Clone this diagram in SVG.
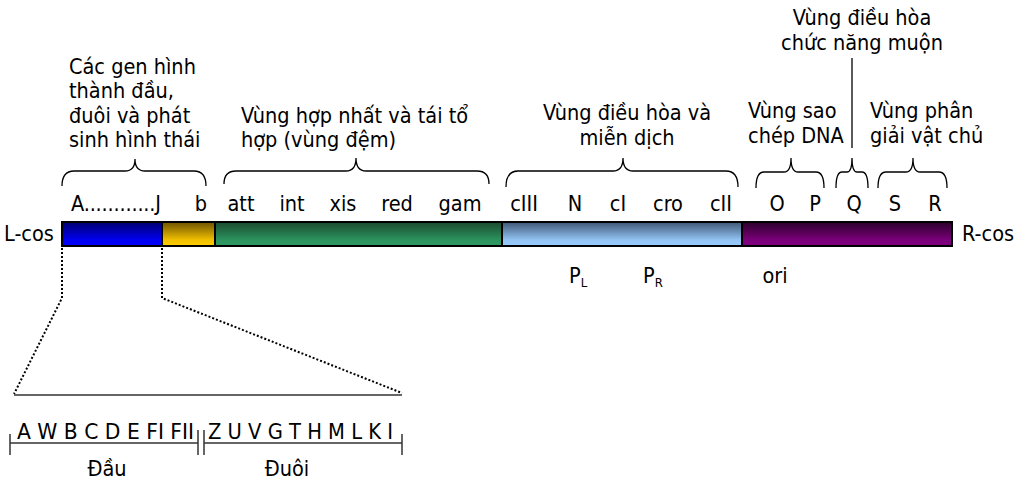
<svg xmlns="http://www.w3.org/2000/svg" width="1026" height="481" viewBox="0 0 1026 481">
  <style>
    text { font-family: "DejaVu Sans Condensed", "DejaVu Sans", Verdana, sans-serif; font-stretch: condensed; font-size: 21.5px; fill: #000; }
    .mid { text-anchor: middle; }
    .sub { font-size: 13px; }
    .big { font-size: 22px; }
    .brace { fill: none; stroke: #000; stroke-width: 1.3; }
    .seg { stroke: #000; stroke-width: 2; }
    .dot { fill: none; stroke: #000; stroke-width: 2; stroke-dasharray: 2 2; }
    .rule { fill: none; stroke: #333; stroke-width: 1.5; }
  </style>
  <defs>
    <linearGradient id="gBlue" x1="0" y1="0" x2="0" y2="1">
      <stop offset="0" stop-color="#000070"/>
      <stop offset="0.75" stop-color="#0000f0"/>
      <stop offset="1" stop-color="#0000ff"/>
    </linearGradient>
    <linearGradient id="gYellow" x1="0" y1="0" x2="0" y2="1">
      <stop offset="0" stop-color="#6e5200"/>
      <stop offset="0.75" stop-color="#f0c000"/>
      <stop offset="1" stop-color="#ffcc00"/>
    </linearGradient>
    <linearGradient id="gGreen" x1="0" y1="0" x2="0" y2="1">
      <stop offset="0" stop-color="#1a4a30"/>
      <stop offset="0.75" stop-color="#2c935e"/>
      <stop offset="1" stop-color="#2f9a63"/>
    </linearGradient>
    <linearGradient id="gSky" x1="0" y1="0" x2="0" y2="1">
      <stop offset="0" stop-color="#3f5674"/>
      <stop offset="0.75" stop-color="#92c4f4"/>
      <stop offset="1" stop-color="#99ccff"/>
    </linearGradient>
    <linearGradient id="gPurple" x1="0" y1="0" x2="0" y2="1">
      <stop offset="0" stop-color="#2a002a"/>
      <stop offset="0.75" stop-color="#7a007a"/>
      <stop offset="1" stop-color="#800080"/>
    </linearGradient>
  </defs>

  <!-- genome bar -->
  <g id="genome-bar">
    <rect x="62" y="222" width="100" height="24" fill="url(#gBlue)" class="seg"/>
    <rect x="162" y="222" width="53" height="24" fill="url(#gYellow)" class="seg"/>
    <rect x="215" y="222" width="287" height="24" fill="url(#gGreen)" class="seg"/>
    <rect x="502" y="222" width="240" height="24" fill="url(#gSky)" class="seg"/>
    <rect x="742" y="222" width="210" height="24" fill="url(#gPurple)" class="seg"/>
    <text x="4" y="241">L-cos</text>
    <text x="962" y="241">R-cos</text>
  </g>

  <!-- gene labels above the bar -->
  <g id="gene-labels">
    <text x="71" y="211" textLength="90">A............J</text>
    <text x="201" y="211" class="mid">b</text>
    <text x="241" y="211" class="mid">att</text>
    <text x="292" y="211" class="mid">int</text>
    <text x="343" y="211" class="mid">xis</text>
    <text x="397" y="211" class="mid">red</text>
    <text x="460" y="211" class="mid">gam</text>
    <text x="524" y="211" class="mid">cIII</text>
    <text x="575" y="211" class="mid">N</text>
    <text x="618" y="211" class="mid">cI</text>
    <text x="668" y="211" class="mid">cro</text>
    <text x="721" y="211" class="mid">cII</text>
    <text x="777" y="211" class="mid">O</text>
    <text x="815" y="211" class="mid">P</text>
    <text x="854" y="211" class="mid">Q</text>
    <text x="895" y="211" class="mid">S</text>
    <text x="935" y="211" class="mid">R</text>
  </g>

  <!-- promoters and origin below the bar -->
  <g id="sites">
    <text x="569" y="283">P<tspan class="sub" dy="4">L</tspan></text>
    <text x="643" y="283">P<tspan class="sub" dy="4">R</tspan></text>
    <text x="775" y="283" class="mid">ori</text>
  </g>

  <!-- region braces -->
  <g id="braces">
    <path class="brace" d="M62,186 Q62,171 74,171 L125,171 Q135,171 135,159 Q135,171 145,171 L194,171 Q206,171 206,186"/>
    <path class="brace" d="M224,184 Q224,171 236,171 L346,171 Q356,171 356,158 Q356,171 366,171 L477,171 Q489,171 489,184"/>
    <path class="brace" d="M506,187 Q506,171 518,171 L613,171 Q623,171 623,158 Q623,171 633,171 L726,171 Q738,171 738,187"/>
    <path class="brace" d="M756,188 Q756,172 764,172 L784,172 Q791,172 791,158 Q791,172 798,172 L816,172 Q824,172 824,188"/>
    <path class="brace" d="M836,188 Q836,172 842,172 L847,172 Q852,172 852,158 Q852,172 857,172 L862,172 Q868,172 868,188"/>
    <path class="brace" d="M878,188 Q878,172 886,172 L906,172 Q913,172 913,158 Q913,172 920,172 L939,172 Q947,172 947,188"/>
    <line x1="852" y1="58" x2="852" y2="148" stroke="#000" stroke-width="1.3"/>
  </g>

  <!-- region titles -->
  <g id="region-morphogenesis">
    <text x="69" y="74">Các gen hình</text>
    <text x="69" y="98">thành đầu,</text>
    <text x="69" y="123">đuôi và phát</text>
    <text x="69" y="147">sinh hình thái</text>
  </g>
  <g id="region-integration">
    <text x="241" y="123">Vùng hợp nhất và tái tổ</text>
    <text x="241" y="147">hợp (vùng đệm)</text>
  </g>
  <g id="region-immunity">
    <text x="627" y="120" class="mid">Vùng điều hòa và</text>
    <text x="627" y="145" class="mid">miễn dịch</text>
  </g>
  <g id="region-late-control">
    <text x="862" y="25" class="mid">Vùng điều hòa</text>
    <text x="862" y="50" class="mid">chức năng muộn</text>
  </g>
  <g id="region-replication">
    <text x="748" y="118">Vùng sao</text>
    <text x="748" y="143">chép DNA</text>
  </g>
  <g id="region-lysis">
    <text x="870" y="118">Vùng phân</text>
    <text x="870" y="143">giải vật chủ</text>
  </g>

  <!-- enlarged head/tail gene cluster -->
  <g id="expansion">
    <path class="dot" d="M62,248 L62,298 L14,394"/>
    <path class="dot" d="M162,248 L162,298 L402,393"/>
    <line class="rule" x1="14" y1="395" x2="402" y2="395"/>
  </g>
  <g id="head-tail-scale">
    <line class="rule" x1="10" y1="443" x2="198" y2="443"/>
    <line class="rule" x1="204" y1="443" x2="402" y2="443"/>
    <line class="rule" x1="10" y1="434" x2="10" y2="455"/>
    <line class="rule" x1="198" y1="430" x2="198" y2="455"/>
    <line class="rule" x1="204" y1="430" x2="204" y2="455"/>
    <line class="rule" x1="402" y1="434" x2="402" y2="455"/>
    <text class="big" x="17" y="439" textLength="177" lengthAdjust="spacingAndGlyphs">A W B C D E FI FII</text>
    <text class="big" x="208" y="439" textLength="185" lengthAdjust="spacingAndGlyphs">Z U V G T H M L K I</text>
    <text x="107" y="476" class="mid">Đầu</text>
    <text x="287" y="476" class="mid">Đuôi</text>
  </g>
</svg>
